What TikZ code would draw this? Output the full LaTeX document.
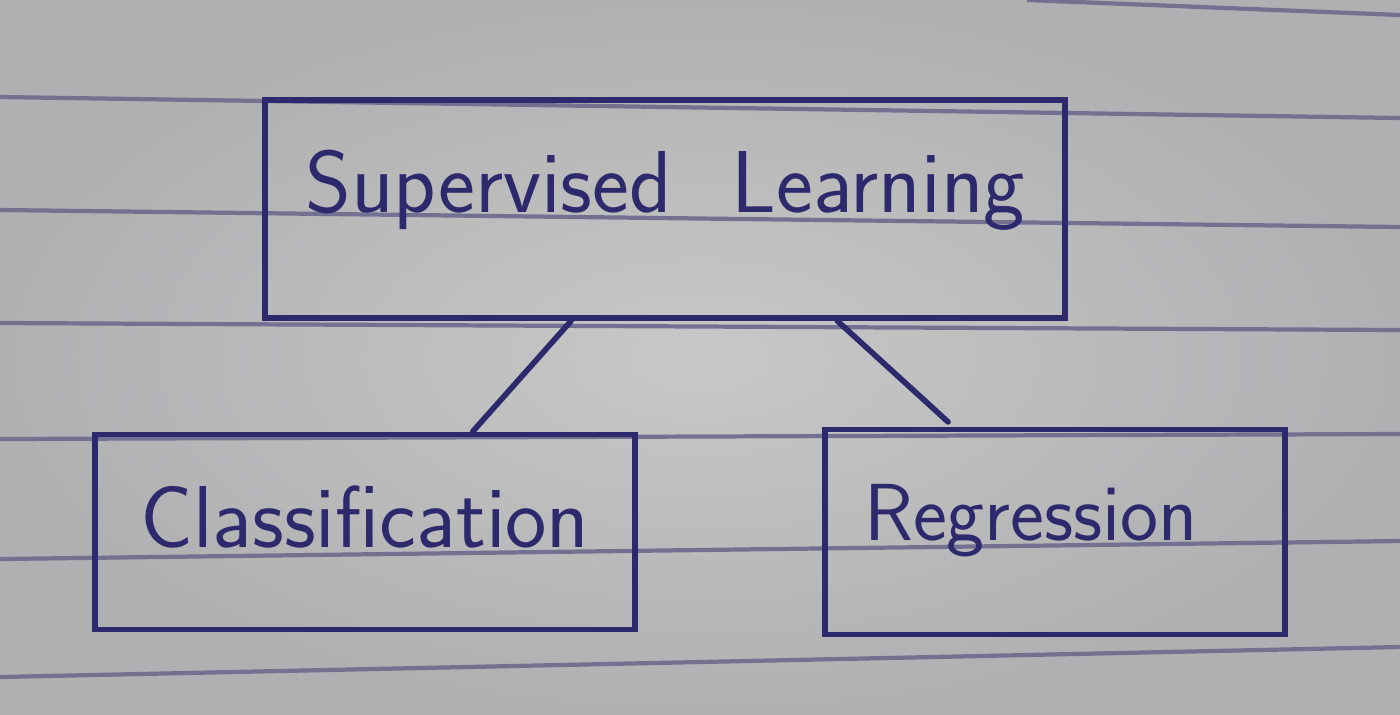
\documentclass[tikz,border=0pt]{standalone}
\usepackage{tikz}
\usetikzlibrary{positioning}
\definecolor{paper}{RGB}{200,200,200}
\definecolor{paperdark}{RGB}{176,176,178}
\definecolor{ink}{RGB}{46,40,108}
\definecolor{rule}{RGB}{116,112,146}

\begin{document}
\begin{tikzpicture}[x=0.01cm, y=-0.01cm,
	box/.style={draw=ink, line width=1.6pt, rectangle, inner sep=0pt, font=\sffamily\fontsize{25}{29}\selectfont, text=ink},
	link/.style={draw=ink, line width=1.6pt, line cap=round},
	ruling/.style={draw=rule, line width=1.2pt}]
						\shade[inner color=paper, outer color=paperdark] (0,0) rectangle (1400,714);
						\useasboundingbox (0,0) rectangle (1400,714);
						\foreach \a/\b in {97/118, 210/227, 323/330, 439/434, 559/541, 677/647}
						    \draw[ruling] (0,\a) -- (1400,\b);
						\draw[ruling] (1027,0) -- (1400,15);
						\node[box, minimum width=8cm, minimum height=2.18cm, text depth=0.55cm] (sl) at (665,209) {Supervised\hspace{0.6cm}Learning};
						\node[box, minimum width=5.4cm, minimum height=1.95cm, text depth=0.3cm] (cl) at (365,532) {Classification};
						\node[box, minimum width=4.6cm, minimum height=2.05cm, text depth=0.4cm, font=\sffamily\fontsize{23}{27}\selectfont] (rg) at (1055,532) {\hspace*{-0.48cm}Regression};
						\draw[link] (sl.230) -- (cl.43);
						\draw[link, shorten >=0.07cm] (sl.327) -- (rg.134);
						\end{tikzpicture}
\end{document}
